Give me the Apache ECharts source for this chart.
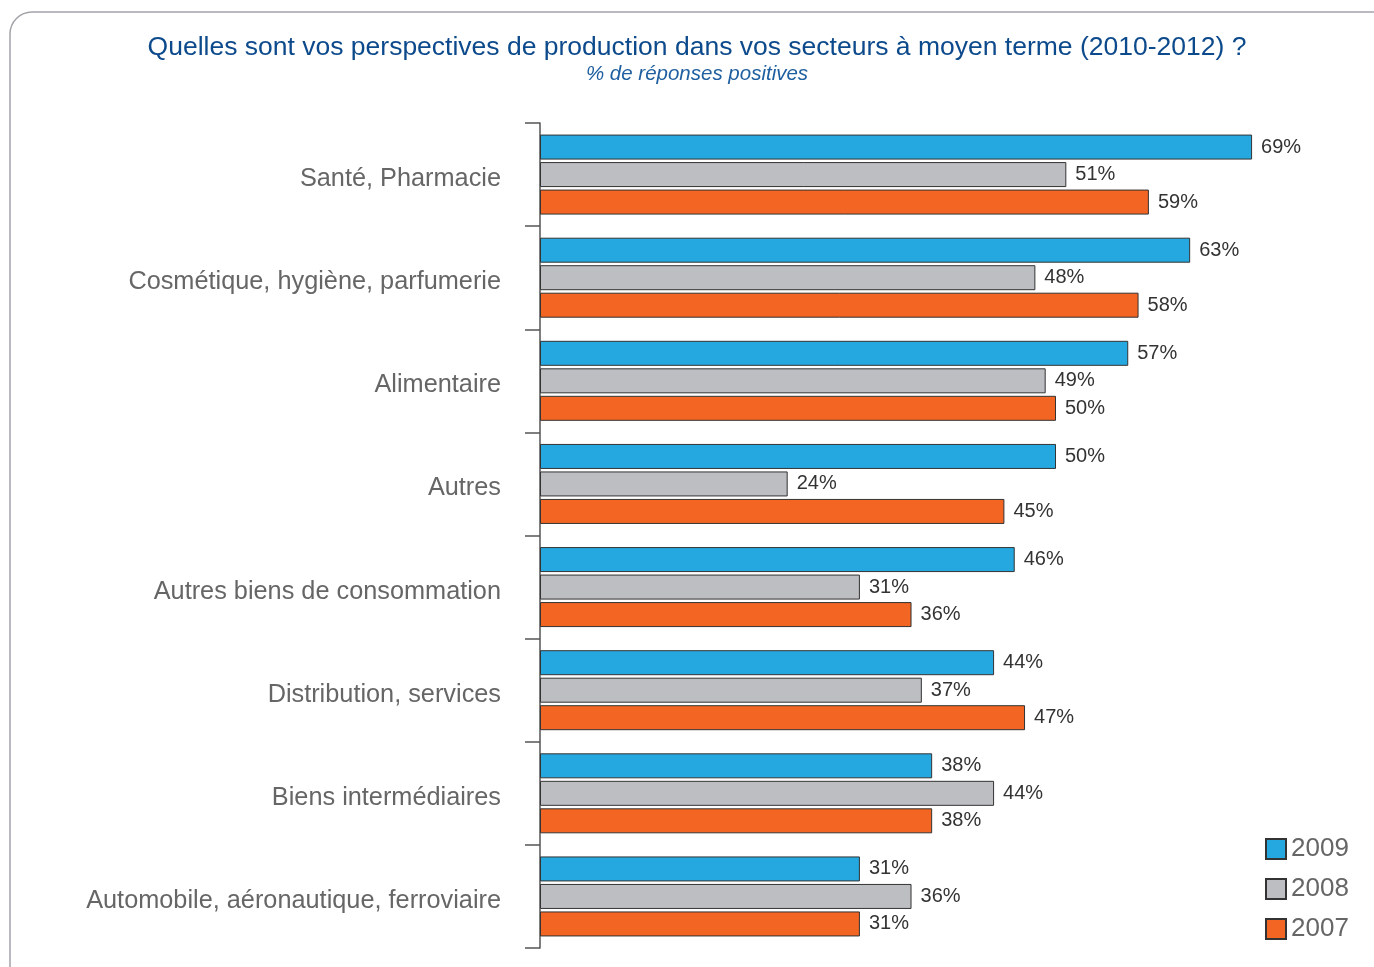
<!DOCTYPE html>
<html>
<head>
<meta charset="utf-8">
<script src="https://cdn.jsdelivr.net/npm/echarts@6/dist/echarts.min.js"></script>
<style>
html, body { margin: 0; padding: 0; background: #fff; }
#chart { width: 1374px; height: 967px; }
</style>
</head>
<body>
<div id="chart"></div>
<script>
var categories = [
  'Santé, Pharmacie',
  'Cosmétique, hygiène, parfumerie',
  'Alimentaire',
  'Autres',
  'Autres biens de consommation',
  'Distribution, services',
  'Biens intermédiaires',
  'Automobile, aéronautique, ferroviaire'
]
var years = ['2009', '2008', '2007']
var values2009 = [69, 63, 57, 50, 46, 44, 38, 31]
var values2008 = [51, 48, 49, 24, 31, 37, 44, 36]
var values2007 = [59, 58, 50, 45, 36, 47, 38, 31]
var colors = ['#25a8e0', '#bdbec2', '#f26522']

var font = '"Liberation Sans", Arial, sans-serif'

function makeSeries (name, data, color) {
  return {
    name: name,
    type: 'bar',
    data: data,
    barWidth: 25,
    barGap: '10%',
    itemStyle: { color: color, borderColor: '#333', borderWidth: 1 },
    label: {
      show: true,
      position: 'right',
      distance: 9,
      formatter: '{c}%',
      fontFamily: font,
      fontSize: 20,
      color: '#333'
    }
  }
}

var option = {
  animation: false,
  backgroundColor: '#fff',
  graphic: [{
    type: 'rect',
    shape: { x: 10, y: 12, width: 1420, height: 1020, r: 22 },
    style: { fill: 'none', stroke: '#a3a3aa', lineWidth: 1.5 },
    z: -1
  }],
  title: [{
    text: 'Quelles sont vos perspectives de production dans vos secteurs à moyen terme (2010-2012) ?',
    left: 692,
    textAlign: 'center',
    top: 29,
    textStyle: { fontFamily: font, fontSize: 26.5, fontWeight: 'normal', color: '#0d4a8c' }
  }, {
    text: '% de réponses positives',
    left: 692,
    textAlign: 'center',
    top: 59,
    textStyle: { fontFamily: font, fontSize: 20.5, fontWeight: 'normal', fontStyle: 'italic', color: '#1f5fa0' }
  }],
  legend: {
    data: years,
    orient: 'vertical',
    left: 1260,
    top: 831,
    icon: 'rect',
    itemWidth: 20,
    itemHeight: 20,
    itemGap: 14,
    textStyle: { fontFamily: font, fontSize: 26, color: '#666' }
  },
  grid: { left: 540, top: 123, right: 60, bottom: 19, containLabel: false },
  xAxis: {
    type: 'value',
    min: 0,
    max: 75,
    show: false
  },
  yAxis: {
    type: 'category',
    data: categories,
    inverse: true,
    axisLine: { show: true, lineStyle: { color: '#555', width: 1.5 } },
    axisTick: { show: true, alignWithLabel: false, length: 15, lineStyle: { color: '#555', width: 1.5 } },
    axisLabel: { margin: 39, verticalAlign: 'top', lineHeight: 9, fontFamily: font, fontSize: 25.3, color: '#666' }
  },
  series: [
    makeSeries(years[0], values2009, colors[0]),
    makeSeries(years[1], values2008, colors[1]),
    makeSeries(years[2], values2007, colors[2])
  ]
}

var chart = echarts.init(document.getElementById('chart'))
chart.setOption(option)
</script>
</body>
</html>
